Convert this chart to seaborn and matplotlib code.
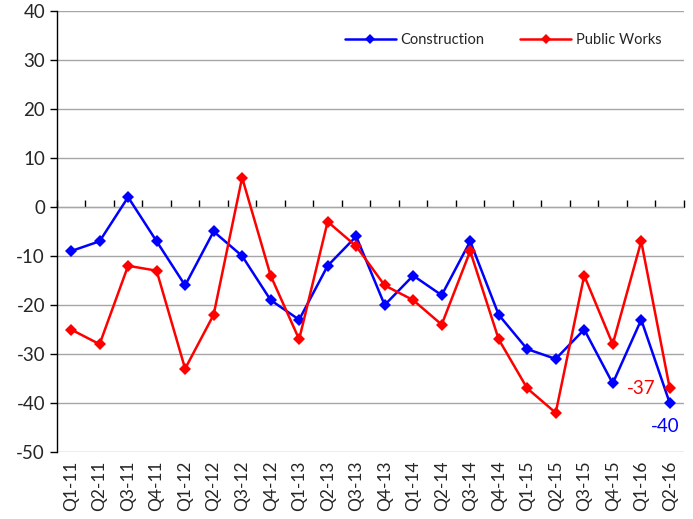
import numpy as np
import pandas as pd
import matplotlib
matplotlib.use("Agg")
import matplotlib.pyplot as plt
import seaborn as sns

quarters = ["Q1-11", "Q2-11", "Q3-11", "Q4-11", "Q1-12", "Q2-12", "Q3-12", "Q4-12",
            "Q1-13", "Q2-13", "Q3-13", "Q4-13", "Q1-14", "Q2-14", "Q3-14", "Q4-14",
            "Q1-15", "Q2-15", "Q3-15", "Q4-15", "Q1-16", "Q2-16"]
construction = [-9, -7, 2, -7, -16, -5, -10, -19, -23, -12, -6, -20, -14, -18, -7, -22,
                -29, -31, -25, -36, -23, -40]
public_works = [-25, -28, -12, -13, -33, -22, 6, -14, -27, -3, -8, -16, -19, -24, -9, -27,
                -37, -42, -14, -28, -7, -37]
series_names = ["Construction", "Public Works"]
colors = ["#0000ff", "#ff0000"]

sns.set_style("white")
plt.rcParams["font.family"] = ["Lato", "DejaVu Sans"]
plt.rcParams["axes.unicode_minus"] = False

idx = np.arange(len(quarters))
df = pd.DataFrame({
    "x": np.concatenate([idx, idx]),
    "value": construction + public_works,
    "series": [series_names[0]] * len(quarters) + [series_names[1]] * len(quarters),
})

fig = plt.figure(figsize=(6.93, 5.19), dpi=100)
ax = fig.add_axes([0.082, 0.129, 0.905, 0.850])

sns.lineplot(data=df, x="x", y="value", hue="series", palette=colors, marker="D",
             markersize=6, markeredgewidth=0, linewidth=1.8, ax=ax)

ax.set_xlim(-0.5, len(quarters) - 0.5)
ax.set_ylim(-50, 40)
ax.set_yticks(np.arange(-50, 41, 10))
ax.yaxis.grid(True, color="#a6a6a6", linewidth=1)
ax.set_axisbelow(True)
ax.set_xticks(idx)
ax.set_xticklabels(quarters, rotation=90, fontsize=12.5)
ax.tick_params(axis="x", length=0, pad=6)
ax.tick_params(axis="y", labelsize=13.5, length=5, width=1, color="black", direction="out", left=True)
ax.set_xlabel("")
ax.set_ylabel("")
for s in ["top", "right", "bottom"]:
    ax.spines[s].set_visible(False)
ax.spines["left"].set_color("black")
ax.spines["left"].set_linewidth(1)

# category axis crossing at zero
zero_ax = ax.secondary_xaxis(50 / 90)
zero_ax.set_xticks(np.arange(-0.5, len(quarters), 1.0))
zero_ax.tick_params(axis="x", direction="out", length=5, width=1, color="black", labelbottom=False)
zero_ax.set_xticklabels([])
zero_ax.spines["bottom"].set_color("black")
zero_ax.spines["bottom"].set_linewidth(1.2)

# end labels
last = len(quarters) - 1
ax.annotate(str(public_works[-1]), (last, public_works[-1]), xytext=(-10, 0),
            textcoords="offset points", ha="right", va="center", color=colors[1], fontsize=13.5)
ax.annotate(str(construction[-1]), (last, construction[-1]), xytext=(-3, -17),
            textcoords="offset points", ha="center", va="center", color=colors[0], fontsize=13.5)

leg = ax.legend(loc="upper right", ncol=2, frameon=False, fontsize=10.5,
                bbox_to_anchor=(0.985, 0.98), handlelength=3.5, columnspacing=2.5,
                handletextpad=0.3, markerscale=0.8)
leg.set_title(None)

fig.savefig("out.png", dpi=100)
